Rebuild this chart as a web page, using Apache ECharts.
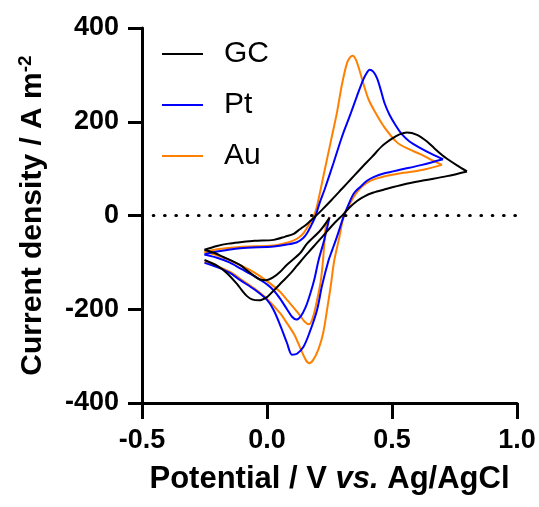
<!DOCTYPE html>
<html>
<head>
<meta charset="utf-8">
<script src="https://cdn.jsdelivr.net/npm/echarts@6/dist/echarts.min.js"></script>
<style>
  html, body { margin: 0; padding: 0; background: #fff; }
  #chart { width: 539px; height: 507px; }
</style>
</head>
<body>
<div id="chart"></div>
<script>
// Cyclic voltammograms: each electrode is recorded as three sweeps
// (initial cathodic sweep, anodic sweep to the vertex, return sweep).
// Points are [potential / V, current density / A m^-2].

const electrodes = ['GC', 'Pt', 'Au'];
const colors = ['#000000', '#0000ff', '#ff8000'];

const xTicks = [-0.5, 0.0, 0.5, 1.0];
const yTicks = [-400, -200, 0, 200, 400];

// Glassy carbon
const gcSweep1 = [[0.25,-5],[0.213,-32],[0.16,-60],[0.133,-80],[0.08,-105],[0.053,-120],[0.027,-131],[-0.005,-138],[-0.03,-136],[-0.053,-128],[-0.08,-117],[-0.107,-106],[-0.14,-97],[-0.173,-89],[-0.21,-80],[-0.25,-73]];
const gcSweep2 = [[-0.25,-73],[-0.2,-65],[-0.154,-60],[-0.107,-57],[-0.05,-54],[0.027,-52],[0.073,-45],[0.107,-39],[0.13,-30],[0.16,-18],[0.187,-5],[0.22,12],[0.26,34],[0.3,57],[0.34,80],[0.38,103],[0.42,125],[0.46,148],[0.5,164],[0.53,173],[0.56,177],[0.6,172],[0.64,158],[0.67,143],[0.70,129],[0.72,121],[0.76,107],[0.8,94]];
const gcSweep3 = [[0.8,94],[0.72,84],[0.63,75],[0.546,66],[0.466,55],[0.426,49],[0.39,41],[0.36,31],[0.33,17],[0.306,3],[0.27,-16],[0.24,-34],[0.2,-58],[0.16,-82],[0.12,-107],[0.093,-124],[0.06,-142],[0.027,-160],[0.0,-174],[-0.033,-181],[-0.06,-179],[-0.08,-172],[-0.1,-160],[-0.12,-146],[-0.16,-123],[-0.2,-107],[-0.25,-95]];

// Platinum
const ptSweep1 = [[0.25,-4],[0.23,-50],[0.206,-96],[0.19,-135],[0.173,-167],[0.155,-195],[0.135,-215],[0.117,-222],[0.1,-216],[0.08,-200],[0.053,-178],[0.027,-160],[0,-147],[-0.05,-130],[-0.107,-113],[-0.15,-100],[-0.2,-90],[-0.25,-83]];
const ptSweep2 = [[-0.25,-83],[-0.2,-77],[-0.107,-70],[0.027,-66],[0.08,-62],[0.12,-57],[0.145,-48],[0.16,-38],[0.178,-20],[0.193,-3],[0.21,26],[0.23,55],[0.266,112],[0.30,168],[0.333,215],[0.36,255],[0.385,290],[0.40,305],[0.41,311],[0.425,307],[0.44,293],[0.455,268],[0.47,240],[0.49,215],[0.515,192],[0.54,173],[0.57,158],[0.61,145],[0.66,131],[0.704,120]];
const ptSweep3 = [[0.704,120],[0.62,108],[0.546,99],[0.47,90],[0.426,82],[0.40,74],[0.375,62],[0.346,46],[0.325,22],[0.306,-3],[0.28,-45],[0.26,-75],[0.246,-96],[0.22,-150],[0.2,-202],[0.17,-250],[0.146,-280],[0.12,-295],[0.1,-297],[0.08,-272],[0.055,-237],[0.027,-202],[0,-180],[-0.05,-158],[-0.107,-138],[-0.15,-122],[-0.2,-110],[-0.25,-101]];

// Gold
const auSweep1 = [[0.25,-3],[0.236,-20],[0.23,-55],[0.224,-96],[0.215,-140],[0.2,-181],[0.185,-215],[0.169,-232],[0.15,-226],[0.12,-205],[0.08,-180],[0.053,-163],[0,-140],[-0.05,-122],[-0.107,-106],[-0.15,-95],[-0.2,-85],[-0.25,-78]];
const auSweep2 = [[-0.25,-78],[-0.2,-72],[-0.107,-67],[0.027,-64],[0.08,-58],[0.107,-53],[0.13,-46],[0.147,-37],[0.165,-22],[0.178,-10],[0.187,-2],[0.2,20],[0.23,95],[0.26,170],[0.28,220],[0.30,280],[0.32,325],[0.333,338],[0.343,341],[0.355,333],[0.37,310],[0.385,282],[0.406,248],[0.433,220],[0.466,191],[0.52,156],[0.57,141],[0.613,131],[0.66,118],[0.70,108]];
const auSweep3 = [[0.70,108],[0.62,97],[0.546,91],[0.46,82],[0.413,74],[0.38,62],[0.36,50],[0.346,39],[0.325,18],[0.306,-3],[0.29,-45],[0.269,-96],[0.255,-150],[0.24,-202],[0.225,-250],[0.206,-285],[0.185,-308],[0.169,-315],[0.155,-308],[0.135,-285],[0.11,-255],[0.08,-230],[0.053,-209],[0,-178],[-0.05,-156],[-0.107,-135],[-0.15,-120],[-0.2,-108],[-0.25,-99]];

const sweepsByElectrode = {
  GC: [gcSweep1, gcSweep2, gcSweep3],
  Pt: [ptSweep1, ptSweep2, ptSweep3],
  Au: [auSweep1, auSweep2, auSweep3]
};

const FONT = '"Liberation Sans", Arial, Helvetica, sans-serif';

const series = [];
electrodes.forEach((name, i) => {
  sweepsByElectrode[name].forEach((sweep) => {
    series.push({
      name: name,
      type: 'line',
      data: sweep,
      symbol: 'none',
      smooth: 0.3,
      color: colors[i],
      itemStyle: { color: colors[i] },
      lineStyle: { color: colors[i], width: 2 },
      z: 3 - i,
      animation: false
    });
  });
});

// dotted zero-current reference line
series.push({
  type: 'line',
  data: [],
  silent: true,
  animation: false,
  markLine: {
    silent: true,
    symbol: 'none',
    label: { show: false },
    lineStyle: { color: '#000', width: 3.2, type: [0.5, 10.8], cap: 'round' },
    data: [{ yAxis: 0 }]
  }
});

const chart = echarts.init(document.getElementById('chart'), null, { renderer: 'canvas' });
chart.setOption({
  backgroundColor: '#ffffff',
  animation: false,
  grid: { left: 142, right: 22, top: 28, bottom: 104, containLabel: false },
  legend: {
    data: electrodes,
    orient: 'vertical',
    left: 157,
    top: 34,
    itemWidth: 41,
    itemHeight: 2,
    itemGap: 21,
    icon: 'rect',
    textStyle: { fontFamily: FONT, fontSize: 30, color: '#000', lineHeight: 30, padding: [0, 0, 0, 16] }
  },
  xAxis: {
    type: 'value',
    min: xTicks[0],
    max: xTicks[xTicks.length - 1],
    interval: 0.5,
    name: 'Potential / V {i|vs.} Ag/AgCl',
    nameLocation: 'middle',
    nameGap: 61,
    nameTextStyle: {
      fontFamily: FONT, fontSize: 31, fontWeight: 'bold', color: '#000',
      rich: { i: { fontFamily: FONT, fontSize: 31, fontWeight: 'bold', fontStyle: 'italic', color: '#000' } }
    },
    axisLine: { onZero: false, lineStyle: { color: '#000', width: 3 } },
    axisTick: { length: 16, lineStyle: { color: '#000', width: 3 } },
    axisLabel: {
      margin: 24, color: '#000', fontFamily: FONT, fontSize: 27, fontWeight: 'bold',
      formatter: (v) => v.toFixed(1)
    },
    splitLine: { show: false }
  },
  yAxis: {
    type: 'value',
    min: yTicks[0],
    max: yTicks[yTicks.length - 1],
    interval: 200,
    name: 'Current density / A m{sup|-2}',
    nameLocation: 'middle',
    nameRotate: 90,
    nameGap: 93,
    nameTextStyle: {
      fontFamily: FONT, fontSize: 30, fontWeight: 'bold', color: '#000',
      rich: { sup: { fontFamily: FONT, fontSize: 19, fontWeight: 'bold', color: '#000', verticalAlign: 'top', padding: [0, 0, 14, 0] } }
    },
    axisLine: { onZero: false, lineStyle: { color: '#000', width: 3 } },
    axisTick: { length: 14, lineStyle: { color: '#000', width: 3 } },
    axisLabel: { margin: 23, color: '#000', fontFamily: FONT, fontSize: 27, fontWeight: 'bold' },
    splitLine: { show: false }
  },
  series: series
});
</script>
</body>
</html>
